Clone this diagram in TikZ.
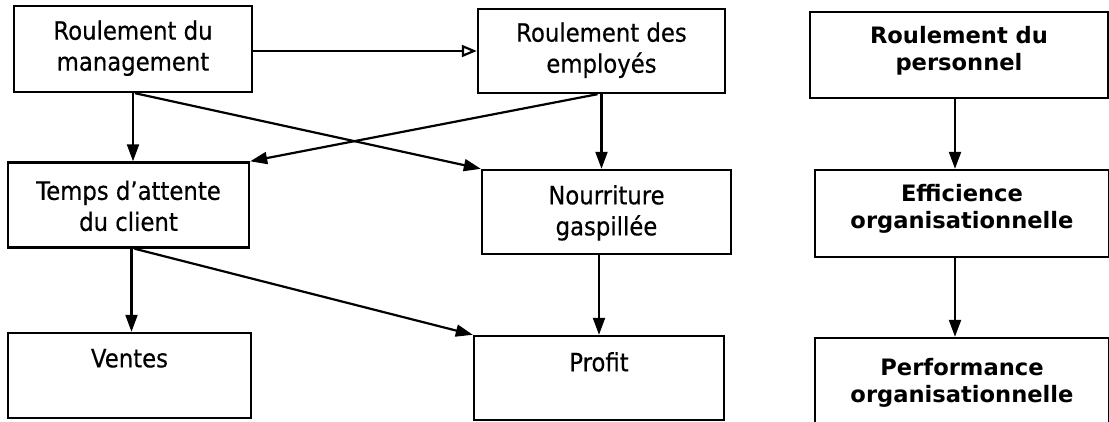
\documentclass[tikz,border=0pt]{standalone}
\usepackage{fontspec}
\setmainfont{DejaVu Sans}
\newfontfamily\leftfont{DejaVu Sans}[FakeStretch=0.9,FakeBold=0.4]
\usetikzlibrary{arrows.meta,calc}
\begin{document}
\begin{tikzpicture}[x=1pt,y=-1pt,
  box/.style={draw, line width=2.4pt, align=center, inner sep=0pt},
  lbox/.style={box, font=\leftfont\fontsize{25.3}{31}\selectfont},
  rbox/.style={box, font=\bfseries\fontsize{22.6}{27}\selectfont},
  conn/.style={line width=2.2pt, -{Triangle[length=17pt,width=12pt]}},
  oconn/.style={line width=2.2pt, -{Triangle[open,fill=white,length=15pt,width=12pt]}}]
\useasboundingbox (0,0) rectangle (1109,422);
\fill[white] (0,0) rectangle (1109,422);
\clip (0,0) rectangle (1109,422);

% left diagram
\node[lbox, minimum width=238pt, minimum height=86pt] (b1) at (133,49) {\strut Roulement du\\\strut management};
\node[lbox, minimum width=247pt, minimum height=84pt] (b2) at (601.5,51) {\strut Roulement des\\\strut employés};
\node[lbox, minimum width=241pt, minimum height=85pt] (b3) at (128.5,205) {\rule{0pt}{30pt}Temps d’attente\\\strut du client};
\node[lbox, minimum width=249pt, minimum height=84pt] (b4) at (606.5,212) {\rule{0pt}{25pt}Nourriture\\\strut gaspillée};
\node[lbox, minimum width=243pt, minimum height=85pt] (b5) at (129.5,375.5) {\rule{0pt}{24pt}Ventes\\\strut};
\node[lbox, minimum width=250pt, minimum height=84pt] (b6) at (599,378) {\rule{0pt}{27pt}Profit\\\strut};

% right diagram
\node[rbox, minimum width=298pt, minimum height=86pt] (r1) at (959,55) {Roulement du\\personnel\rule[-14pt]{0pt}{0pt}};
\node[rbox, minimum width=294pt, minimum height=87pt] (r2) at (962,213.5) {Efficience\\organisationnelle\rule[-14pt]{0pt}{0pt}};
\node[rbox, minimum width=294pt, minimum height=98pt] (r3) at (962,387) {Performance\\organisationnelle\rule[-14pt]{0pt}{0pt}};

% connectors
\draw[oconn] ([yshift=-2pt]b1.east) -- ([yshift=-2pt]b1.east -| b2.west);
\draw[conn] (b1.south) -- (b1.south |- b3.north);
\draw[conn] ([xshift=2pt]b1.south) -- (b4.north west);
\draw[conn] ([xshift=-4pt]b2.south) -- (b3.north east);
\draw[conn] (b2.south) -- (b2.south |- b4.north);
\draw[conn] ([xshift=3pt]b3.south) -- ([xshift=3pt]b3.south |- b5.north);
\draw[conn] ([xshift=6pt]b3.south) -- (b6.north west);
\draw[conn] (b6.north |- b4.south) -- (b6.north);

\draw[conn] ([xshift=-4pt]r1.south) -- ([xshift=-4pt]r1.south |- r2.north);
\draw[conn] ([xshift=-4pt]r1.south |- r2.south) -- ([xshift=-4pt]r1.south |- r3.north);
\end{tikzpicture}
\end{document}
